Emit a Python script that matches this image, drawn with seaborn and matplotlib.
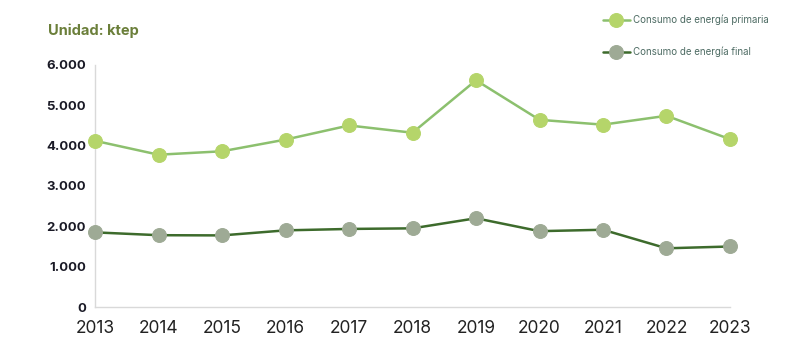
import matplotlib
matplotlib.use("Agg")
import matplotlib.pyplot as plt
import seaborn as sns
import pandas as pd

years = [2013, 2014, 2015, 2016, 2017, 2018, 2019, 2020, 2021, 2022, 2023]
primaria = [4120, 3775, 3860, 4150, 4500, 4320, 5620, 4640, 4520, 4740, 4160]
final = [1850, 1780, 1775, 1900, 1935, 1950, 2200, 1880, 1915, 1455, 1500]
label_primaria = "Consumo de energía primaria"
label_final = "Consumo de energía final"
yticks = [0, 1000, 2000, 3000, 4000, 5000, 6000]
ytick_labels = ["0", "1.000", "2.000", "3.000", "4.000", "5.000", "6.000"]

sns.set_theme(style="white")
plt.rcParams['font.family'] = ['Inter', 'DejaVu Sans']

df_p = pd.DataFrame({"year": years, "value": primaria})
df_f = pd.DataFrame({"year": years, "value": final})

fig = plt.figure(figsize=(7.92, 3.53), dpi=100)
ax = fig.add_axes([0.12, 0.1303, 0.8017, 0.6857])

sns.lineplot(data=df_p, x="year", y="value", ax=ax, color="#8cc06e", linewidth=1.8,
             marker="o", markersize=10, markerfacecolor="#b5d56a", markeredgecolor="#b5d56a",
             label=label_primaria, zorder=3, clip_on=False)
sns.lineplot(data=df_f, x="year", y="value", ax=ax, color="#3d6b2c", linewidth=1.8,
             marker="o", markersize=10, markerfacecolor="#9eaa95", markeredgecolor="#9eaa95",
             label=label_final, zorder=3, clip_on=False)

ax.set_xlim(2013, 2023)
ax.set_ylim(0, 6000)
ax.set_xticks(years)
ax.set_xticklabels([str(y) for y in years], fontsize=12.5, color="#222222")
ax.set_yticks(yticks)
ax.set_yticklabels(ytick_labels, fontsize=9.5, fontweight="bold", color="#1a1a26")
ax.set_xlabel("")
ax.set_ylabel("")
for s in ["top", "right"]:
    ax.spines[s].set_visible(False)
for s in ["left", "bottom"]:
    ax.spines[s].set_color("#d9d9d9")
    ax.spines[s].set_linewidth(1)
ax.tick_params(axis="x", direction="out", length=5, width=1, color="#d9d9d9", pad=4)
ax.tick_params(axis="y", direction="in", length=5, width=1, color="#d9d9d9", pad=6.5)
ax.grid(False)

leg = ax.legend(loc="upper left", bbox_to_anchor=(0.75, 0.983), bbox_transform=fig.transFigure,
                frameon=False, fontsize=7, labelspacing=2.2, handlelength=2.8,
                handletextpad=0.3)
for t in leg.get_texts():
    t.set_color("#4d6b63")

fig.text(0.061, 0.912, "Unidad: ktep", fontsize=10.5, fontweight="bold", color="#6b7f3a",
         ha="left", va="center")

fig.savefig("out.png", dpi=100)
